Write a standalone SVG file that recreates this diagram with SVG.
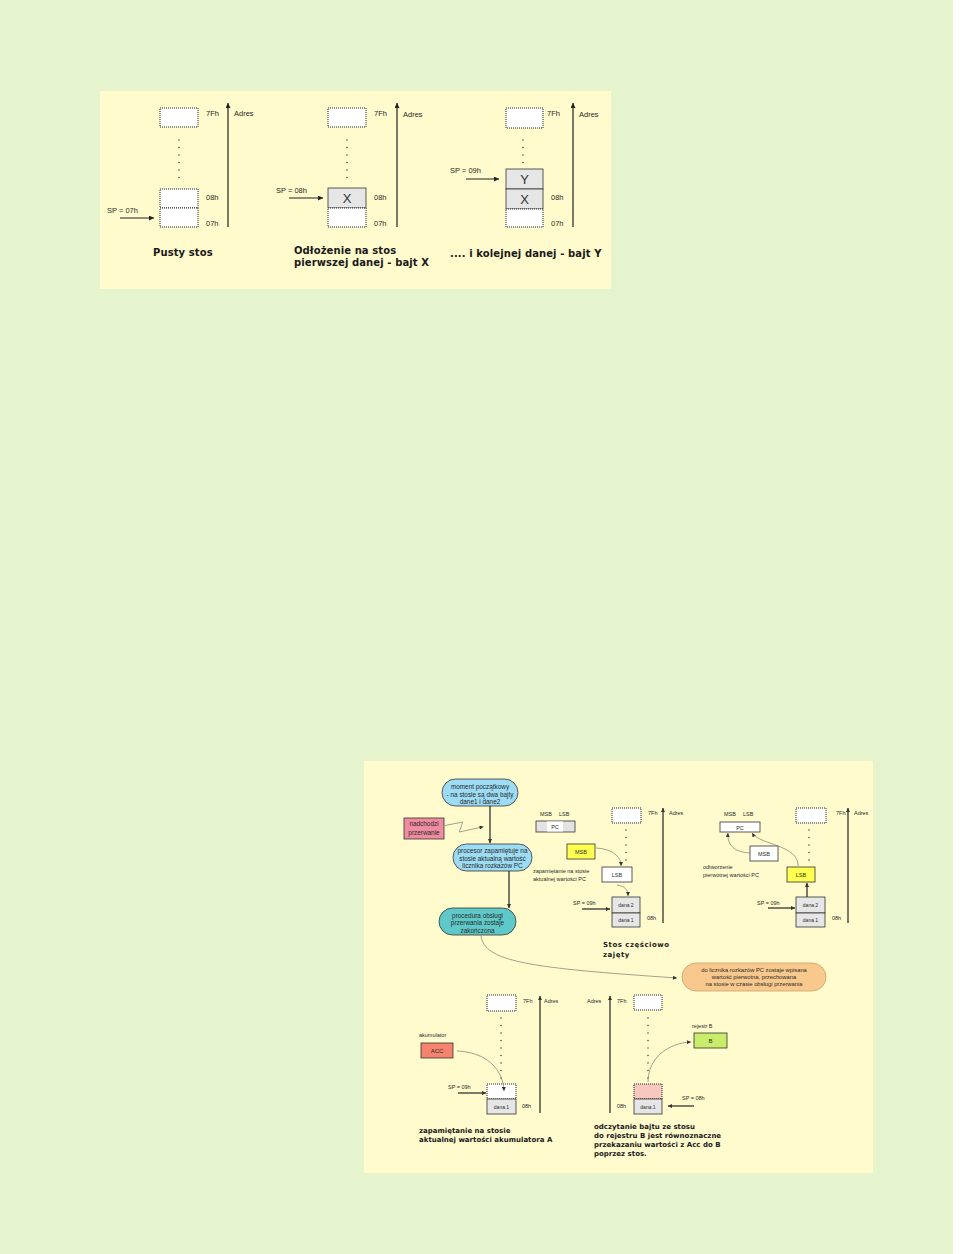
<svg xmlns="http://www.w3.org/2000/svg" width="977" height="1254" viewBox="0 0 977 1254">
<defs>
<style>
.lab{font-family:"Liberation Sans",Arial,sans-serif;font-size:7.5px;fill:#2a2a2a}
.sm{font-family:"Liberation Sans",Arial,sans-serif;font-size:5.5px;fill:#2a2a2a}
.fl{font-family:"Liberation Sans",Arial,sans-serif;font-size:6.4px;fill:#2a2a2a;text-anchor:middle}
.bt{font-family:"DejaVu Sans",sans-serif;font-weight:bold;font-size:10px;fill:#1a1a1a;letter-spacing:0.1px}
.bs{font-family:"DejaVu Sans",sans-serif;font-weight:bold;font-size:7px;fill:#1a1a1a}
.big{font-family:"Liberation Sans",Arial,sans-serif;font-size:13px;fill:#333;text-anchor:middle}
.dot{fill:#fff;stroke:#222;stroke-width:1;stroke-dasharray:1 1}
.cell{fill:#e6e6e6;stroke:#333;stroke-width:0.8}
.box{stroke:#333;stroke-width:0.8}
.dl{stroke:#222;stroke-width:1.3;stroke-dasharray:0 7.5;stroke-linecap:round;fill:none}
.ax{stroke:#222;stroke-width:1.2;fill:none}
.ar{stroke:#222;stroke-width:1.2;fill:none}
.cv{stroke:#8a8a7a;stroke-width:0.8;fill:none}
.mid{text-anchor:middle}
</style>
<marker id="ah" viewBox="0 0 10 10" refX="10" refY="5" markerWidth="7" markerHeight="5" orient="auto" markerUnits="userSpaceOnUse"><path d="M0,0 L10,5 L0,10 z" fill="#222"/></marker>
<marker id="ahs" viewBox="0 0 10 10" refX="10" refY="5" markerWidth="5" markerHeight="4" orient="auto" markerUnits="userSpaceOnUse"><path d="M0,0 L10,5 L0,10 z" fill="#333"/></marker>
</defs>
<rect x="0" y="0" width="953" height="1254" fill="#e6f4cd"/>
<rect x="953" y="0" width="24" height="1254" fill="#ffffff"/>
<rect id="panel-top" x="100" y="91" width="511" height="198" fill="#fffbcd"/>
<rect id="panel-bottom" x="364" y="761" width="509" height="412" fill="#fffbcd"/>

<g id="stack-empty">
<rect class="dot" x="160" y="108" width="38" height="19"/>
<line class="dl" x1="179" y1="140" x2="179" y2="184"/>
<rect class="dot" x="160" y="189" width="38" height="19"/>
<rect class="dot" x="160" y="208" width="38" height="19"/>
<text class="lab" x="206" y="116">7Fh</text>
<text class="lab" x="206" y="200">08h</text>
<text class="lab" x="206" y="226">07h</text>
<text class="lab" x="234" y="116">Adres</text>
<text class="lab" x="107" y="213">SP = 07h</text>
<text class="bt" x="153" y="256">Pusty stos</text>
</g>
<g id="stack-x">
<rect class="dot" x="328" y="108" width="38" height="19"/>
<line class="dl" x1="347" y1="140" x2="347" y2="184"/>
<rect class="cell" x="328" y="188" width="38" height="20"/>
<text class="big" x="347" y="203">X</text>
<rect class="dot" x="328" y="208" width="38" height="19"/>
<text class="lab" x="374" y="116">7Fh</text>
<text class="lab" x="374" y="200">08h</text>
<text class="lab" x="374" y="226">07h</text>
<text class="lab" x="403" y="117">Adres</text>
<text class="lab" x="276" y="193">SP = 08h</text>
<text class="bt" x="294" y="254">Odłożenie na stos</text>
<text class="bt" x="294" y="266">pierwszej danej - bajt X</text>
</g>
<g id="stack-y">
<rect class="dot" x="506" y="108" width="37" height="20"/>
<line class="dl" x1="523" y1="140" x2="523" y2="166"/>
<rect class="cell" x="506" y="169" width="37" height="20"/>
<text class="big" x="524.5" y="184">Y</text>
<rect class="cell" x="506" y="189" width="37" height="20"/>
<text class="big" x="524.5" y="204">X</text>
<rect class="dot" x="506" y="209" width="37" height="18"/>
<text class="lab" x="547" y="116">7Fh</text>
<text class="lab" x="551" y="200">08h</text>
<text class="lab" x="551" y="226">07h</text>
<text class="lab" x="579" y="117">Adres</text>
<text class="lab" x="450" y="173">SP = 09h</text>
<text class="bt" x="450" y="257">.... i kolejnej danej - bajt Y</text>
</g>

<g id="flow-start">
<rect x="442" y="779" width="76" height="27" rx="13.5" fill="#9cdcf5" class="box"/>
<text class="fl" x="480" y="789">moment początkowy</text>
<text class="fl" x="480" y="796.5">- na stosie są dwa bajty</text>
<text class="fl" x="480" y="804">dane1 i dane2</text>
</g>
<g id="flow-interrupt">
<rect x="404" y="818" width="40" height="21" fill="#f08ca0" class="box"/>
<text class="fl" x="424" y="825.5">nadchodzi</text>
<text class="fl" x="424" y="834.5">przerwanie</text>
</g>
<g id="flow-save">
<rect x="453" y="844" width="79" height="27" rx="13.5" fill="#9cdcf5" class="box"/>
<text class="fl" x="492.5" y="853">procesor zapamiętuje na</text>
<text class="fl" x="492.5" y="860.5">stosie aktualną wartość</text>
<text class="fl" x="492.5" y="868">licznika rozkazów PC</text>
</g>
<g id="flow-end">
<rect x="439" y="908" width="77" height="27" rx="13.5" fill="#5fc9c9" class="box"/>
<text class="fl" x="477.5" y="917.5">procedura obsługi</text>
<text class="fl" x="477.5" y="925">przerwania zostaje</text>
<text class="fl" x="477.5" y="932.5">zakończona</text>
</g>
<g id="flow-restore">
<rect x="682" y="963" width="144" height="28" rx="14" fill="#f9c88c" stroke="#c9a36c" stroke-width="0.8"/>
<text class="fl" x="754" y="972" style="font-size:5.8px">do licznika rozkazów PC zostaje wpisana</text>
<text class="fl" x="754" y="979" style="font-size:5.8px">wartość pierwotna, przechowana</text>
<text class="fl" x="754" y="986" style="font-size:5.8px">na stosie w  czasie obsługi przerwania</text>
</g>

<g id="stack-partial">
<text class="sm" x="540" y="816">MSB</text>
<text class="sm" x="559" y="816">LSB</text>
<rect x="536" y="821" width="39" height="11" fill="#e3e3e3" class="box"/>
<rect x="547" y="821.5" width="16" height="10" fill="#fff"/>
<text class="sm mid" x="555" y="829">PC</text>
<rect class="dot" x="612" y="808" width="29" height="15"/>
<line class="dl" x1="626" y1="830" x2="626" y2="882"/>
<text class="sm" x="648" y="815">7Fh</text>
<text class="sm" x="669" y="815">Adres</text>
<rect x="567" y="844" width="28" height="15" fill="#ffff4f" class="box"/>
<text class="sm mid" x="581" y="854">MSB</text>
<text class="sm" x="533" y="873">zapamiętanie na stosie</text>
<text class="sm" x="533" y="881">aktualnej wartości PC</text>
<rect x="602" y="867" width="30" height="15" fill="#fff" class="box"/>
<text class="sm mid" x="617" y="877">LSB</text>
<rect class="cell" x="612" y="897" width="28" height="16"/>
<rect class="cell" x="612" y="913" width="28" height="14"/>
<text class="sm mid" x="626" y="907" style="font-size:5px">dana 2</text>
<text class="sm mid" x="626" y="922" style="font-size:5px">dana 1</text>
<text class="sm" x="573" y="905">SP = 09h</text>
<text class="sm" x="647" y="920">08h</text>
<text class="bs" x="603" y="947" style="letter-spacing:0.5px">Stos częściowo</text>
<text class="bs" x="603" y="957" style="letter-spacing:0.5px">zajęty</text>
</g>
<g id="stack-restore">
<text class="sm" x="724" y="816">MSB</text>
<text class="sm" x="743" y="816">LSB</text>
<rect x="720" y="822" width="40" height="10" fill="#fff" class="box"/>
<text class="sm mid" x="740" y="829.5">PC</text>
<rect class="dot" x="796" y="808" width="30" height="15"/>
<line class="dl" x1="809" y1="830" x2="809" y2="866"/>
<text class="sm" x="836" y="815">7Fh</text>
<text class="sm" x="854" y="815">Adres</text>
<rect x="750" y="846" width="28" height="15" fill="#fff" class="box"/>
<text class="sm mid" x="764" y="856">MSB</text>
<rect x="787" y="867" width="28" height="15" fill="#ffff4f" class="box"/>
<text class="sm mid" x="801" y="877">LSB</text>
<text class="sm" x="703" y="869">odtworzenie</text>
<text class="sm" x="703" y="877">pierwotnej wartości PC</text>
<rect class="cell" x="796" y="897" width="29" height="16"/>
<rect class="cell" x="796" y="913" width="29" height="14"/>
<text class="sm mid" x="810.5" y="907" style="font-size:5px">dana 2</text>
<text class="sm mid" x="810.5" y="922" style="font-size:5px">dana 1</text>
<text class="sm" x="757" y="905">SP = 09h</text>
<text class="sm" x="832" y="920">08h</text>
</g>
<g id="stack-acc">
<rect class="dot" x="487" y="995" width="29" height="16"/>
<line class="dl" x1="501" y1="1018" x2="501" y2="1079"/>
<text class="sm" x="523" y="1003">7Fh</text>
<text class="sm" x="544" y="1003">Adres</text>
<text class="sm" x="419" y="1037">akumulator</text>
<rect x="421" y="1043" width="32" height="15" fill="#f5836f" class="box"/>
<text class="sm mid" x="437" y="1053" style="font-size:6px">ACC</text>
<rect class="dot" x="487" y="1084" width="29" height="15"/>
<rect class="cell" x="487" y="1099" width="29" height="15"/>
<text class="sm mid" x="501.5" y="1109" style="font-size:5px">dana 1</text>
<text class="sm" x="448" y="1089">SP = 09h</text>
<text class="sm" x="522" y="1108">08h</text>
<text class="bs" x="419" y="1133">zapamiętanie na stosie</text>
<text class="bs" x="419" y="1142">aktualnej wartości akumulatora A</text>
</g>
<g id="stack-regb">
<text class="sm" x="587" y="1003">Adres</text>
<text class="sm" x="617" y="1003">7Fh</text>
<rect class="dot" x="634" y="995" width="28" height="15"/>
<line class="dl" x1="648" y1="1018" x2="648" y2="1079"/>
<text class="sm" x="692" y="1028">rejestr B</text>
<rect x="694" y="1033" width="33" height="15" fill="#c9ec6b" class="box"/>
<text class="sm mid" x="710.5" y="1043" style="font-size:6px">B</text>
<rect x="634" y="1084" width="28" height="15" fill="#f8c8c0" stroke="#222" stroke-width="1" stroke-dasharray="1 1"/>
<rect class="cell" x="634" y="1099" width="28" height="15"/>
<text class="sm mid" x="648" y="1109" style="font-size:5px">dana 1</text>
<text class="sm" x="617" y="1108">08h</text>
<text class="sm" x="682" y="1100">SP = 08h</text>
<text class="bs" x="594" y="1129">odczytanie bajtu ze stosu</text>
<text class="bs" x="594" y="1138">do rejestru B jest równoznaczne</text>
<text class="bs" x="594" y="1147">przekazaniu wartości z Acc do B</text>
<text class="bs" x="594" y="1156">poprzez stos.</text>
</g>

<g id="connectors">
<line class="ax" x1="228" y1="227" x2="228" y2="103" marker-end="url(#ah)"/>
<line class="ar" x1="120" y1="218" x2="154" y2="218" marker-end="url(#ah)"/>
<line class="ax" x1="397" y1="227" x2="397" y2="103" marker-end="url(#ah)"/>
<line class="ar" x1="289" y1="198" x2="323" y2="198" marker-end="url(#ah)"/>
<line class="ax" x1="573" y1="227" x2="573" y2="103" marker-end="url(#ah)"/>
<line class="ar" x1="466" y1="179" x2="499" y2="179" marker-end="url(#ah)"/>

<line class="ar" x1="490" y1="806" x2="490" y2="843" marker-end="url(#ahs)"/>
<polyline class="cv" points="445,825.5 462.7,822 459.3,832 483.5,826.7" marker-end="url(#ahs)"/>
<line class="ar" x1="509" y1="871" x2="509" y2="908" marker-end="url(#ahs)"/>
<path class="cv" d="M 481 935 C 483 962, 530 968, 677 978" marker-end="url(#ahs)"/>

<line class="ax" x1="663" y1="923" x2="663" y2="808" stroke-width="1" marker-end="url(#ahs)"/>
<path class="cv" d="M 596 848 C 612 849, 621 856, 621 866" marker-end="url(#ahs)"/>
<path class="cv" d="M 617 885 C 624 886, 628 889, 628 896" marker-end="url(#ahs)"/>
<line class="ar" x1="582" y1="909" x2="610" y2="909" marker-end="url(#ahs)"/>

<line class="ax" x1="848" y1="923" x2="848" y2="808" stroke-width="1" marker-end="url(#ahs)"/>
<path class="cv" d="M 750 853 C 735 852, 727 846, 728 833" marker-end="url(#ahs)"/>
<path class="cv" d="M 798 866 C 799 845, 760 845, 752 833" marker-end="url(#ahs)"/>
<line class="ar" x1="807" y1="897" x2="807" y2="883" marker-end="url(#ahs)"/>
<line class="ar" x1="768" y1="908" x2="795" y2="908" marker-end="url(#ahs)"/>

<line class="ax" x1="540" y1="1113" x2="540" y2="996" stroke-width="1" marker-end="url(#ahs)"/>
<path class="cv" d="M 457 1051 C 485 1052, 503 1068, 504 1091" marker-end="url(#ahs)"/>
<line class="ar" x1="458" y1="1093" x2="486" y2="1093" marker-end="url(#ahs)"/>

<line class="ax" x1="610" y1="1113" x2="610" y2="996" stroke-width="1" marker-end="url(#ahs)"/>
<path class="cv" d="M 648 1082 C 648 1058, 668 1043, 691 1042" marker-end="url(#ahs)"/>
<line class="ar" x1="694" y1="1106" x2="668" y2="1106" marker-end="url(#ahs)"/>
</g>
</svg>
